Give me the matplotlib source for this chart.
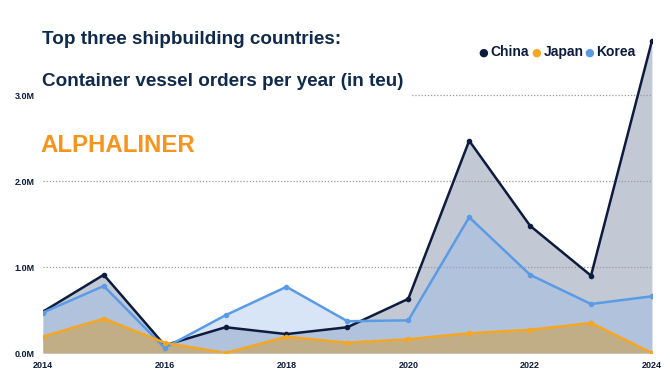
import numpy as np
import matplotlib.pyplot as plt

years = [2014, 2015, 2016, 2017, 2018, 2019, 2020, 2021, 2022, 2023, 2024]
china = [0.48, 0.91, 0.09, 0.30, 0.22, 0.30, 0.63, 2.47, 1.48, 0.90, 3.63]
japan = [0.19, 0.40, 0.12, 0.00, 0.19, 0.12, 0.16, 0.23, 0.27, 0.35, 0.00]
korea = [0.47, 0.78, 0.06, 0.44, 0.77, 0.37, 0.38, 1.58, 0.91, 0.57, 0.66]

navy = "#0d1b3e"
title_c = "#0f2a4d"
orange = "#f5a623"
blue = "#5b9be6"
narrow = ["Liberation Sans Narrow", "Liberation Sans"]

fig = plt.figure(figsize=(6.7, 3.8), dpi=100)
ax = fig.add_axes([0.064, 0.071, 0.909, 0.837])

# areas
ax.fill_between(years, china, 0, color="#9aa6ba", alpha=0.6, lw=0, zorder=1)
ax.fill_between(years, korea, 0, color="#8fb6ea", alpha=0.35, lw=0, zorder=2)
ax.fill_between(years, japan, 0, color="#c9a86a", alpha=0.75, lw=0, zorder=3)

ax.plot(years, china, color=navy, lw=1.8, marker="o", ms=3, zorder=5)
ax.plot(years, korea, color=blue, lw=1.8, marker="o", ms=3, zorder=6)
ax.plot(years, japan, color=orange, lw=1.8, marker="o", ms=3, zorder=7)

ax.set_xlim(2014, 2024)
ax.set_ylim(0, 3.7)
ax.set_xticks([2014, 2016, 2018, 2020, 2022, 2024])
ax.set_yticks([0, 1, 2, 3])
ax.set_yticklabels(["0.0M", "1.0M", "2.0M", "3.0M"])
for lab in ax.get_xticklabels() + ax.get_yticklabels():
    lab.set_fontsize(6.5)
    lab.set_fontweight("bold")
    lab.set_color(navy)
    lab.set_family(narrow)
ax.tick_params(length=0, pad=6)
ax.grid(axis="y", linestyle=(0, (1, 1.5)), color="#999999", lw=0.9, zorder=0)
for s in ax.spines.values():
    s.set_visible(False)
ax.patch.set_alpha(0)

# titles
fig.text(0.063, 0.895, "Top three shipbuilding countries:", fontsize=13.6, fontweight="bold",
         color=title_c, family="Liberation Sans", va="center")
fig.text(0.063, 0.785, "Container vessel orders per year (in teu)", fontsize=13.6, fontweight="bold",
         color=title_c, family="Liberation Sans", va="center",
         bbox=dict(facecolor="white", edgecolor="none", pad=6))
fig.text(0.061, 0.618, "ALPHALINER", fontsize=17.3, fontweight="bold",
         color="#f7941d", family="Liberation Sans", va="center")

# legend
lx = [0.721, 0.801, 0.879]
for x0, name, c in zip(lx, ["China", "Japan", "Korea"], [navy, orange, blue]):
    fig.text(x0, 0.862, "\u25cf", color=c, fontsize=8, va="center", ha="center")
    fig.text(x0 + 0.011, 0.862, name, color=navy, fontsize=10, fontweight="bold",
             family=narrow, va="center")

fig.savefig("out.png", dpi=100)
